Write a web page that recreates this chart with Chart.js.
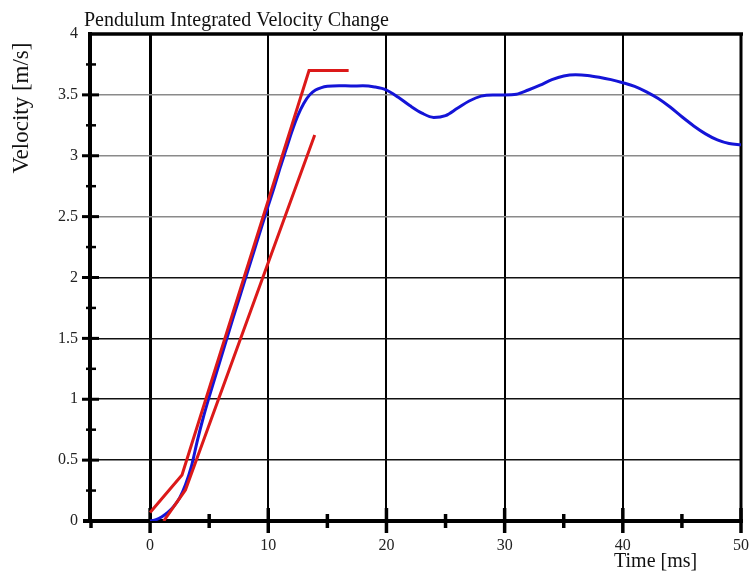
<!DOCTYPE html>
<html>
<head>
<meta charset="utf-8">
<script src="https://cdn.jsdelivr.net/npm/chart.js@4.4.0/dist/chart.umd.min.js"></script>
<style>
  body { margin: 0; background: #fff; }
  #wrap { width: 755px; height: 575px; }
</style>
</head>
<body>
<div id="wrap"><canvas id="velocityChart" width="755" height="575"></canvas></div>
<script>
// data
const blueTime = [0, 0.5, 1, 1.5, 2, 2.5, 3, 3.5, 4, 4.5, 5, 6, 7, 8, 9, 10, 10.5, 11, 11.5, 12, 12.5, 13, 13.5, 14, 14.5, 15, 16, 17, 18, 19, 20, 21, 22, 23, 24, 25, 26, 27, 28, 29, 30, 31, 32, 33, 34, 35, 36, 37, 38, 39, 40, 41, 42, 43, 44, 45, 46, 47, 48, 49, 50];
const blueVelocity = [0, 0.01, 0.035, 0.07, 0.12, 0.19, 0.3, 0.45, 0.66, 0.85, 1.02, 1.34, 1.66, 1.97, 2.28, 2.59, 2.74, 2.9, 3.05, 3.2, 3.33, 3.43, 3.5, 3.54, 3.56, 3.57, 3.575, 3.573, 3.574, 3.565, 3.54, 3.48, 3.41, 3.35, 3.315, 3.33, 3.39, 3.45, 3.49, 3.5, 3.5, 3.505, 3.54, 3.58, 3.625, 3.655, 3.665, 3.66, 3.645, 3.625, 3.6, 3.57, 3.525, 3.47, 3.4, 3.32, 3.245, 3.18, 3.13, 3.1, 3.09];
const upperTime = [0, 2.7, 13.45, 16.8];
const upperVelocity = [0.07, 0.378, 3.7, 3.7];
const lowerTime = [1.15, 2.99, 13.93];
const lowerVelocity = [0, 0.255, 3.17];

const xTickLabels = [0, 10, 20, 30, 40, 50];
const yTickLabels = [0, 0.5, 1, 1.5, 2, 2.5, 3, 3.5, 4];

const toPoints = (xs, ys) => xs.map((x, i) => ({ x: x, y: ys[i] }));

const serif = "'Liberation Serif', 'Times New Roman', serif";

// frame, tick marks and titles
const framePlugin = {
  id: "frame",
  beforeDatasetsDraw(chart) {
    const ctx = chart.ctx;
    const xs = chart.scales.x;
    const ys = chart.scales.y;
    const a = chart.chartArea;
    ctx.save();
    ctx.strokeStyle = "#000";
    ctx.lineCap = "butt";

    // minor / major ticks on y
    for (let v = 0.25; v < 4; v += 0.25) {
      const py = ys.getPixelForValue(v);
      const major = Math.abs(v * 2 - Math.round(v * 2)) < 1e-6;
      ctx.lineWidth = major ? 3 : 2.5;
      ctx.beginPath();
      ctx.moveTo(a.left - (major ? 9 : 5), py);
      ctx.lineTo(a.left + (major ? 8 : 5), py);
      ctx.stroke();
    }
    // ticks on x
    for (let v = -5; v <= 50; v += 5) {
      const px = xs.getPixelForValue(v);
      const major = v % 10 === 0;
      ctx.lineWidth = 3.5;
      ctx.beginPath();
      ctx.moveTo(px, a.bottom - (major ? 13 : (v === -5 ? 0 : 7)));
      ctx.lineTo(px, a.bottom + (major ? 12 : 7));
      ctx.stroke();
    }

    // axes box
    ctx.lineWidth = 4;
    ctx.beginPath();
    ctx.moveTo(a.left - 1, a.top - 2);
    ctx.lineTo(a.left - 1, a.bottom + 2);
    ctx.stroke();
    ctx.beginPath();
    ctx.moveTo(a.left - 8, a.bottom);
    ctx.lineTo(a.right + 2, a.bottom);
    ctx.stroke();
    ctx.lineWidth = 3.5;
    ctx.beginPath();
    ctx.moveTo(a.left - 3, a.top);
    ctx.lineTo(a.right + 2, a.top);
    ctx.stroke();
    ctx.lineWidth = 3;
    ctx.beginPath();
    ctx.moveTo(a.right, a.top);
    ctx.lineTo(a.right, a.bottom);
    ctx.stroke();

    // titles
    ctx.fillStyle = "#111";
    ctx.font = "20px " + serif;
    ctx.textAlign = "left";
    ctx.textBaseline = "alphabetic";
    ctx.fillText("Pendulum Integrated Velocity Change", 84, 26);
    ctx.fillText("Time [ms]", 614, 567);

    ctx.translate(28, 108);
    ctx.rotate(-Math.PI / 2);
    ctx.textAlign = "center";
    ctx.font = "23px " + serif;
    ctx.fillText("Velocity [m/s]", 0, 0);
    ctx.restore();
  }
};

new Chart(document.getElementById("velocityChart").getContext("2d"), {
  type: "line",
  data: {
    datasets: [
      {
        label: "Upper bound",
        data: toPoints(upperTime, upperVelocity),
        borderColor: "rgb(220, 25, 25)",
        borderWidth: 3,
        pointRadius: 0,
        tension: 0
      },
      {
        label: "Lower bound",
        data: toPoints(lowerTime, lowerVelocity),
        borderColor: "rgb(220, 25, 25)",
        borderWidth: 3,
        pointRadius: 0,
        tension: 0
      },
      {
        label: "Velocity",
        data: toPoints(blueTime, blueVelocity),
        borderColor: "rgb(20, 20, 215)",
        borderWidth: 3,
        pointRadius: 0,
        cubicInterpolationMode: "monotone"
      }
    ]
  },
  options: {
    responsive: false,
    animation: false,
    layout: { autoPadding: false, padding: { left: 0, right: 14, top: 34, bottom: 0 } },
    plugins: {
      legend: { display: false },
      title: { display: false },
      tooltip: { enabled: false }
    },
    scales: {
      x: {
        type: "linear",
        min: -5,
        max: 50,
        afterFit: (s) => { s.height = 54; s.paddingLeft = 0; s.paddingRight = 0; },
        border: { display: false },
        grid: {
          drawTicks: false,
          color: (c) => {
            const v = c.tick.value;
            return v > -5 && v < 50 && v % 10 === 0 ? "#000" : "rgba(0,0,0,0)";
          },
          lineWidth: (c) => (c.tick.value === 0 ? 3 : 2)
        },
        ticks: {
          stepSize: 5,
          padding: 15,
          maxRotation: 0,
          autoSkip: false,
          color: "#222",
          font: { family: serif, size: 16 },
          callback: (v) => (xTickLabels.includes(v) ? String(v) : "")
        }
      },
      y: {
        min: 0,
        max: 4,
        afterFit: (s) => { s.width = 91; s.paddingTop = 0; s.paddingBottom = 0; },
        border: { display: false },
        grid: {
          drawTicks: false,
          color: (c) => {
            const v = c.tick.value;
            if (v <= 0 || v >= 4 || !yTickLabels.includes(v)) return "rgba(0,0,0,0)";
            return v > 2 ? "#8a8a8a" : "#111";
          },
          lineWidth: 1.6
        },
        ticks: {
          stepSize: 0.25,
          padding: 13,
          autoSkip: false,
          color: "#222",
          font: { family: serif, size: 16 },
          callback: (v) => (yTickLabels.includes(v) ? String(v) : "")
        }
      }
    }
  },
  plugins: [framePlugin]
});
</script>
</body>
</html>
